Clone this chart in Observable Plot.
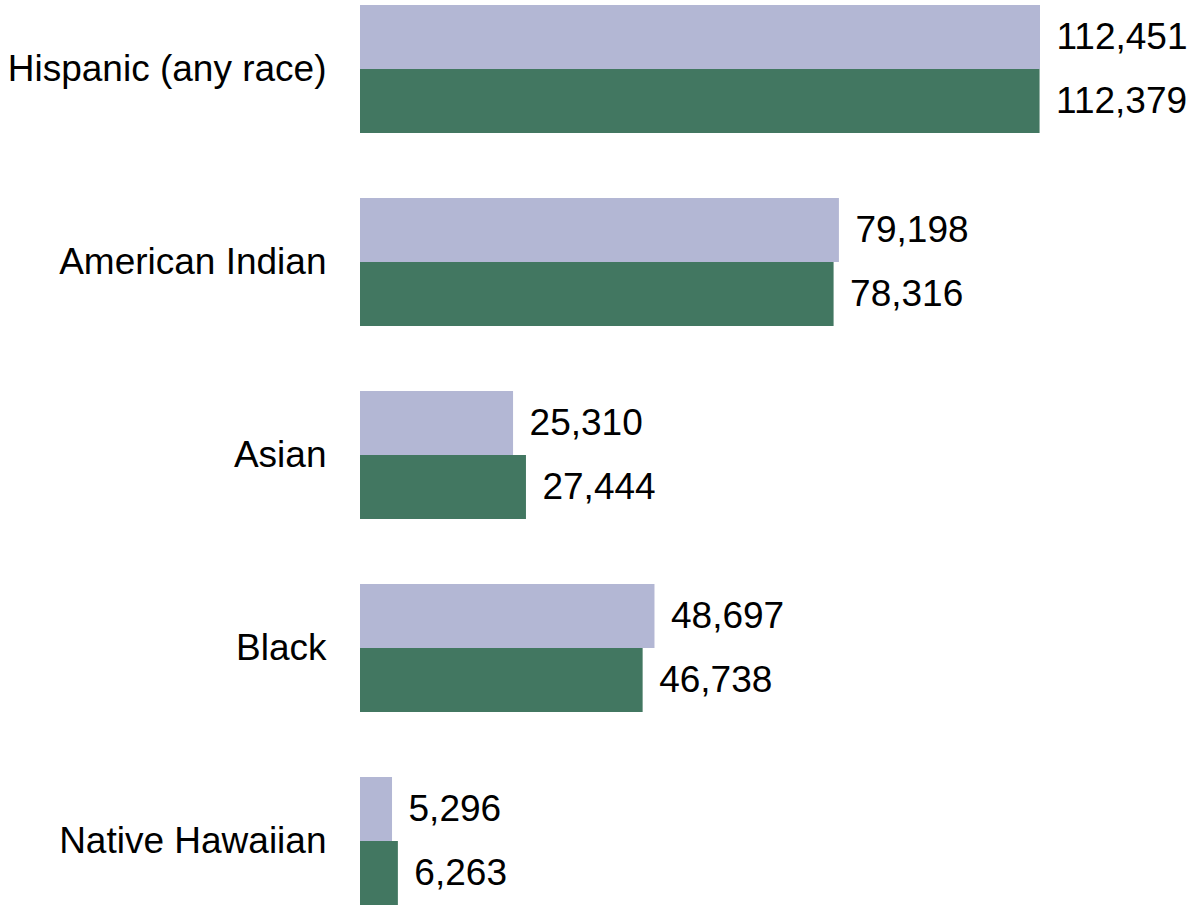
<!DOCTYPE html>
<html>
<head>
<meta charset="utf-8">
<script src="https://cdn.jsdelivr.net/npm/d3@7"></script>
<script src="https://cdn.jsdelivr.net/npm/@observablehq/plot@0.6"></script>
<style>
  html, body { margin: 0; padding: 0; background: #ffffff; }
  svg { overflow: visible; }
</style>
</head>
<body>
<div id="chart"></div>
<script>
const categories = ["Hispanic (any race)", "American Indian", "Asian", "Black", "Native Hawaiian"];
const seriesNames = ["Earlier", "Later"];
const earlierValues = [112451, 79198, 25310, 48697, 5296];
const laterValues = [112379, 78316, 27444, 46738, 6263];
const seriesColors = ["#b3b7d4", "#427761"];

const data = [];
categories.forEach((c, i) => {
  data.push({category: c, series: seriesNames[0], value: earlierValues[i]});
  data.push({category: c, series: seriesNames[1], value: laterValues[i]});
});

const fmt = d3.format(",");

const chart = Plot.plot({
  width: 1188,
  height: 909,
  marginLeft: 360,
  marginRight: 148,
  marginTop: 2,
  marginBottom: 2,
  style: {fontFamily: "'Liberation Sans', Arial, sans-serif", fontSize: "37px", color: "#000", background: "#fff"},
  x: {domain: [0, 112451], axis: null},
  y: {domain: seriesNames, padding: 0, axis: null},
  fy: {domain: categories, padding: 0.333, label: null},
  color: {domain: seriesNames, range: seriesColors},
  marks: [
    Plot.axisFy({tickSize: 0, tickPadding: 34, fontSize: 37, label: null, anchor: "left"}),
    Plot.barX(data, {fy: "category", y: "series", x: "value", fill: "series"}),
    Plot.text(data, {fy: "category", y: "series", x: "value", text: d => fmt(d.value), textAnchor: "start", dx: 16, fontSize: 37, fill: "#000"})
  ]
});

document.getElementById("chart").appendChild(chart);
</script>
</body>
</html>
